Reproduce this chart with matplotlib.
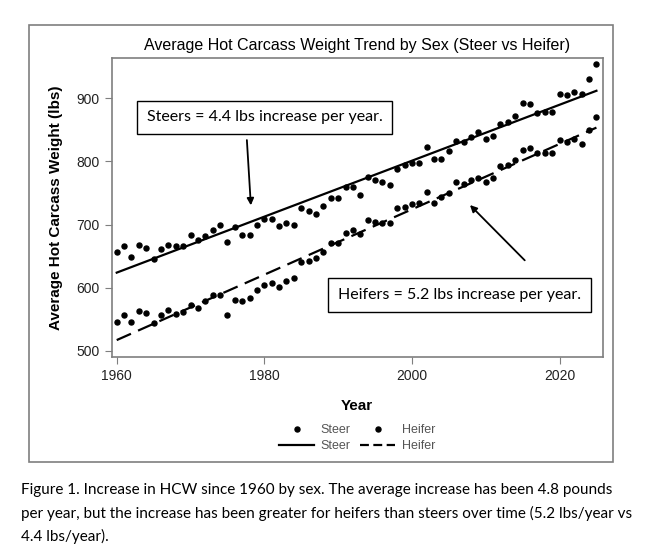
import numpy as np
import matplotlib.pyplot as plt
from matplotlib.lines import Line2D
from matplotlib.patches import Rectangle

W, H = 654, 546

years = np.arange(1960, 2026)

steer = [656, 666, 648, 668, 662, 645, 661, 668, 666, 666,
         683, 676, 682, 691, 700, 673, 696, 683, 683, 699,
         708, 708, 697, 703, 699, 726, 722, 717, 729, 742,
         742, 759, 760, 746, 775, 771, 767, 763, 788, 794,
         797, 798, 823, 804, 804, 817, 832, 830, 838, 847,
         835, 840, 859, 863, 872, 892, 891, 877, 878, 879,
         907, 905, 910, 907, 930, 954]

heifer = [546, 557, 546, 563, 559, 544, 556, 565, 558, 562,
          572, 567, 579, 588, 588, 557, 580, 579, 583, 596,
          604, 608, 601, 611, 615, 641, 642, 647, 656, 670,
          671, 687, 691, 685, 707, 704, 703, 702, 726, 727,
          733, 734, 752, 734, 744, 750, 767, 764, 771, 774,
          768, 773, 792, 794, 802, 818, 821, 813, 814, 813,
          834, 831, 835, 828, 850, 871]

x_ticks = [1960, 1980, 2000, 2020]
y_ticks = [500, 600, 700, 800, 900]

title = "Average Hot Carcass Weight Trend by Sex (Steer vs Heifer)"
caption = ("Figure 1. Increase in HCW since 1960 by sex. The average increase has been 4.8 pounds\n"
           "per year, but the increase has been greater for heifers than steers over time (5.2 lbs/year vs\n"
           "4.4 lbs/year).")

plt.rcParams['font.family'] = ['Liberation Sans', 'DejaVu Sans']
GRAY = '#7f7f7f'


def fx(px):
    return px / W


def fy(py):
    return 1 - py / H


fig = plt.figure(figsize=(W / 100, H / 100), dpi=100)
ax = fig.add_axes([fx(111.7), fy(356.7), fx(602.7) - fx(111.7), fy(58.3) - fy(356.7)])

# outer frame around the graph
fig.patches.append(Rectangle((fx(29.3), fy(461.7)), fx(612.7) - fx(29.3), fy(24.7) - fy(461.7),
                             transform=fig.transFigure, fill=False, edgecolor=GRAY, linewidth=1.2))

ax.scatter(years, steer, s=13, color='black', zorder=3)
ax.scatter(years, heifer, s=13, color='black', zorder=3)

fit_s = np.polyfit(years, steer, 1)
fit_h = np.polyfit(years, heifer, 1)
ax.plot(years, np.polyval(fit_s, years), color='black', linewidth=1.6)
ax.plot(years, np.polyval(fit_h, years), color='black', linewidth=1.6, dashes=(7, 3.5))

ax.set_xlim(1959.32, 2025.85)
ax.set_ylim(490.5, 963.4)
ax.set_xticks(x_ticks)
ax.set_yticks(y_ticks)
ax.tick_params(direction='out', length=5, color=GRAY, labelsize=10, labelcolor='#222222')
for sp in ax.spines.values():
    sp.set_color(GRAY)
    sp.set_linewidth(1.2)

ax.set_title(title, fontsize=11.5, pad=6)
ax.set_xlabel("Year", fontsize=11, fontweight='bold', labelpad=12)
ax.set_ylabel("Average Hot Carcass Weight (lbs)", fontsize=11, fontweight='bold', labelpad=10)

# annotation boxes
box_kw = dict(boxstyle='square,pad=0.6', facecolor='white', edgecolor='black', linewidth=1)
fig.text(fx(264.5), fy(117.5), "Steers = 4.4 lbs increase per year.", family='Lato', fontsize=11.5,
         ha='center', va='center', bbox=box_kw)
fig.text(fx(459.5), fy(295), "Heifers = 5.2 lbs increase per year.", family='Lato', fontsize=11.5,
         ha='center', va='center', bbox=box_kw)

ax.annotate("", xy=(1978.2, 726), xycoords='data',
            xytext=(fx(246.7), fy(137.3)), textcoords='figure fraction',
            arrowprops=dict(arrowstyle='-|>', color='black', lw=1.3, mutation_scale=10))
ax.annotate("", xy=(2007.6, 734), xycoords='data',
            xytext=(fx(526.7), fy(262.3)), textcoords='figure fraction',
            arrowprops=dict(arrowstyle='-|>', color='black', lw=1.3, mutation_scale=10))

handles = [
    Line2D([], [], marker='o', linestyle='none', color='black', markersize=3.6),
    Line2D([], [], color='black', linewidth=1.6),
    Line2D([], [], marker='o', linestyle='none', color='black', markersize=3.6),
    Line2D([], [], color='black', linewidth=1.6, dashes=(4, 2)),
]
labels = ["Steer", "Steer", "Heifer", "Heifer"]
leg = fig.legend(handles, labels, loc='center', bbox_to_anchor=(fx(357), fy(438)), ncol=2,
                 frameon=False, fontsize=9, handlelength=2.8, handletextpad=0.5,
                 columnspacing=0.8, labelspacing=0.3)
for t in leg.get_texts():
    t.set_color('#555555')

fig.text(fx(21), fy(483), caption, family='Lato', fontsize=11, ha='left', va='top',
         linespacing=1.7)

fig.savefig("out.png", dpi=100)
